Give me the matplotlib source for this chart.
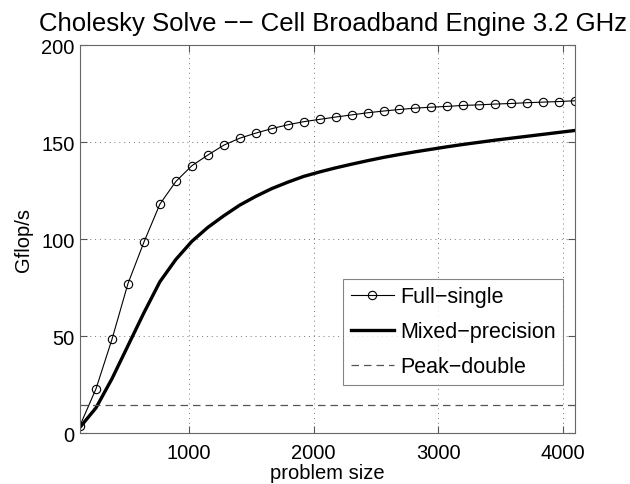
import matplotlib
matplotlib.use("Agg")
import matplotlib.pyplot as plt
import numpy as np

plt.rcParams['font.family'] = ['Liberation Sans', 'DejaVu Sans']

sizes = list(range(128, 4097, 128))
full_single = [3.9, 22.8, 48.3, 77.0, 98.4, 118.0, 129.7, 137.8, 143.3, 148.4,
               152.0, 154.6, 156.9, 158.9, 160.5, 161.7, 162.9, 164.0, 165.1, 166.0,
               166.8, 167.5, 168.0, 168.4, 168.9, 169.2, 169.6, 169.9, 170.3, 170.6,
               170.9, 171.3]
mixed = [3.0, 13.0, 28.0, 45.0, 62.0, 78.0, 89.5, 98.8, 106.0, 112.0,
         117.5, 122.0, 126.0, 129.3, 132.3, 134.6, 136.7, 138.6, 140.4, 142.1,
         143.6, 145.0, 146.3, 147.6, 148.8, 149.9, 151.0, 152.0, 153.0, 154.0,
         155.0, 156.0]
peak_double = 14.6

fig = plt.figure(figsize=(6.3, 4.85), dpi=100)
ax = fig.add_axes([0.127, 0.105, 0.786, 0.80])

ax.plot(sizes, full_single, color='black', lw=0.8, marker='o', ms=6,
        mfc='none', mec='black', mew=0.8, label='Full\u2212single')
ax.plot(sizes, mixed, color='black', lw=2.4, label='Mixed\u2212precision')
ax.plot([sizes[0], sizes[-1]], [peak_double, peak_double], color='#555555',
        lw=0.9, ls=(0, (6, 4)), label='Peak\u2212double')

ax.set_xlim(128, 4096)
ax.set_ylim(0, 200)
ax.set_xticks([1000, 2000, 3000, 4000])
ax.set_yticks([0, 50, 100, 150, 200])
ax.grid(True, ls=(0, (1, 4)), color='#777777', lw=0.7)
ax.tick_params(direction='in', top=True, right=True, labelsize=14.5, length=5,
               color='#555555', pad=4)
ax.tick_params(axis='x', pad=7)
for s in ax.spines.values():
    s.set_color('#666666')
    s.set_linewidth(0.8)

ax.set_xlabel('problem size', fontsize=14.5, labelpad=1)
ax.set_ylabel('Gflop/s', fontsize=14.5, labelpad=6)
ax.set_title('Cholesky Solve \u2212\u2212 Cell Broadband Engine 3.2 GHz', fontsize=18.5,
             pad=11, x=0.51)

leg = ax.legend(loc='lower right', bbox_to_anchor=(0.976, 0.124), fontsize=15.5,
                fancybox=False, edgecolor='#666666', handlelength=2.0,
                handletextpad=0.3, borderpad=0.35, labelspacing=0.65,
                borderaxespad=0)
leg.get_frame().set_linewidth(0.8)

fig.savefig('out.png', dpi=100)
